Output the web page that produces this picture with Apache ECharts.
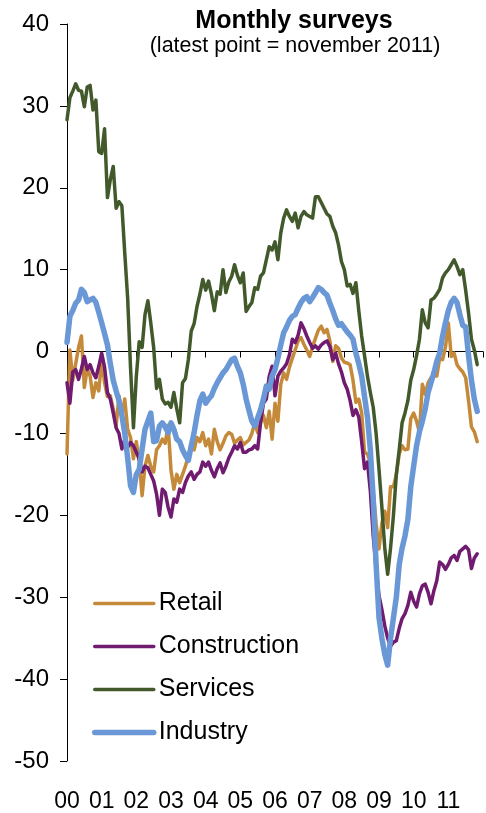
<!DOCTYPE html>
<html>
<head>
<meta charset="utf-8">
<script src="https://cdn.jsdelivr.net/npm/echarts@6/dist/echarts.min.js"></script>
<style>
  html, body { margin: 0; padding: 0; background: #fff; }
  #main { width: 486px; height: 813px; }
</style>
</head>
<body>
<div id="main"></div>
<script>
// monthly, jan 2000 .. nov 2011
const yearLabels = ["00", "01", "02", "03", "04", "05", "06", "07", "08", "09", "10", "11"];

const retail = [
  -12.5, 0.2, -3.5, -1.5, 0.5, 1.9, -4.4, -2.1, -3, -5.6, -3.8, -4.8,
  -1, -3.8, -5.5, -5.4, -7, -9.1, -5.4, -7.8, -5.8, -9.5, -10.5, -13.1,
  -11, -13.5, -17.6, -14, -12.7, -14, -14.7, -12, -11.5, -10.7, -11.2, -9,
  -14.5, -16.8, -15, -16, -15, -14, -12.7, -11.5, -12, -10.5, -11, -9.9,
  -11.5, -10.7, -12.5, -9.5, -11, -12, -11.2, -10.3, -9.9, -10.1, -11.2, -10.8,
  -10.5, -11.4, -11.1, -10.8, -10, -8.7, -9.9, -8.7, -7.8, -9.3, -7.3, -10.7,
  -6.3, -8.5, -4, -2.6, -3.4, -1.9, -0.8, 0.2, 1.3, 1.7, 0.9, 0.2,
  -0.6, 0.6, 1.6, 2.6, 3.1, 2.3, 2.7, 1.3, -1.2, 0.7, 0.4, -0.8,
  -1.3, -1.4, -1.6, -3.5, -6.2, -5.8, -7.5, -12.3, -12.5, -13.6, -17, -21,
  -24.1, -21, -19.5, -21.5, -16.5, -16.5, -15, -12.5, -11.5, -12, -11.9, -8.2,
  -7.5, -8.5, -9.9, -4, -5.2, -3.8, -3.2, -3, -3, -0.8, -1, 0.5,
  3.5, -0.6, -0.2, -1.6, -2.1, -2.5, -3.2, -6, -9.2, -9.8, -11
];

const construction = [
  -3.8, -6.3, -2.5, -2.2, -3.4, -2.1, -0.6, -2.2, -1.6, -2.6, -3.2, -1.8,
  -0.2, -1.9, -5, -5.8, -7.5, -9.3, -10, -11.9, -10.7, -11.7, -11.1, -11.5,
  -12.3, -13.1, -14.7, -14, -14.2, -15, -15.8, -17.4, -20, -16.8, -17.2, -19,
  -20.2, -18, -18.4, -16.8, -17.2, -16, -15.2, -14.7, -15.6, -15, -14.7, -13.5,
  -14, -13.5, -14.5, -15.3, -14.3, -13.6, -14.8, -14, -13, -12.3, -11.5, -11.9,
  -11.1, -12.3, -12.3, -12, -11.9, -11.5, -11.9, -8.7, -6.3, -5.8, -3, -1.8,
  -5.4, -3, -2.4, -2, -1.5, -0.4, 1.5, 1.1, 2, 3.5, 2.8, 1.9,
  1.1, 0.4, 0.7, 0.3, 0.8, 1.1, 1.3, 0.6, -1, -0.2, -1.5, -2.5,
  -3.8, -4.6, -6, -7.8, -7.1, -8, -11, -14.3, -13.5, -17, -22.5, -26.5,
  -29.8, -31.5, -33.5, -35, -36, -35.5, -35.3, -33.8, -32.6, -32, -31, -29.4,
  -30.5, -31.2, -29.6, -28.6, -28.4, -29.4, -30.8, -29.2, -28, -25.7, -26, -26.6,
  -26, -25.2, -24.9, -25.5, -24.4, -24.1, -23.8, -24.2, -26.5, -25.2, -24.7
];

const services = [
  28.3, 31, 31.8, 32.7, 31.9, 31.8, 29.9, 32.3, 32.5, 29.5, 30.7, 24.4,
  24.2, 27.2, 18.8, 21, 22.6, 17.5, 18.3, 17.8, 12, 6.5, -2, -9.3,
  -3, 1.2, 0.5, 4.5, 6.2, 3.5, 0.5, -4.5, -3.4, -5.8, -6.4, -6.2,
  -6.8, -5, -7, -8.7, -3.8, -3.3, -1, 2.5, 3.4, 5.5, 7, 8.8,
  7.5, 8.6, 7, 5, 7.3, 7, 10, 7.2, 8.5, 9.2, 10.6, 9.3,
  8.4, 9.6, 4.9, 5.5, 6, 7.8, 7.6, 9.2, 9.6, 11.2, 12.8, 12.4,
  13.4, 11.2, 14.5, 16.3, 17.3, 16.5, 15.9, 16.9, 15.1, 16.5, 17.1, 16.7,
  16.5, 16.3, 18.9, 18.9, 18.2, 17.5, 16.8, 16.5, 15.3, 14.5, 13, 11,
  10, 8, 8.2, 7.1, 8.4, 5, 1.9, -0.5, -3, -5, -6.8, -10,
  -14.4, -19, -24, -27.2, -24, -20, -15, -12, -8.7, -7.5, -6, -3.5,
  -2.2, -0.5, 1.5, 5.1, 3.5, 2.9, 6.3, 6.5, 7, 7.6, 9, 9.6,
  10, 10.6, 11.2, 10.4, 9.4, 10, 7.5, 4.7, 1.5, 0.2, -1.6
];

const industry = [
  1.1, 4.3, 5, 5.9, 6.3, 7.6, 7.2, 6.1, 6.3, 6.5, 6, 4.8,
  3.5, 2.2, 0.8, -1.5, -3.5, -4.8, -6, -7.8, -10, -13, -16.4, -17.2,
  -15, -14.4, -11.9, -9.5, -8.5, -7.5, -11, -10.9, -9.1, -8.7, -9.2, -9.9,
  -8.7, -9.5, -10.7, -11, -12, -12.7, -13.3, -11.5, -9.9, -7.8, -6, -5.2,
  -6.3, -5.8, -5.4, -4.5, -3.8, -3.2, -2.6, -2.2, -1.6, -1, -0.8, -1.8,
  -2.6, -4, -5.8, -7.2, -8.5, -9.1, -8.1, -7.1, -5.8, -4.2, -4.6, -3,
  -2.2, -0.8, 0.8, 2.3, 3, 3.8, 4.3, 4.5, 5.3, 6, 6.5, 6.7,
  6.1, 6.6, 7.2, 7.8, 7.6, 7.2, 6.9, 5.9, 5, 4, 3.2, 3.4,
  2.9, 2.4, 2, 1.5, -0.2, -1.5, -3, -5.5, -8, -12, -18, -26,
  -32.5, -35, -37, -38.3, -35, -32.5, -30, -26, -24, -22.5, -20.5, -16.5,
  -14, -11.5, -9.8, -8.5, -7, -5, -3.8, -2.6, -1.2, -0.2, 1.9, 3.5,
  5, 6, 6.5, 6, 4.5, 3.2, 3, -0.5, -3.5, -5.8, -7.3
];

const FONT = '"Liberation Sans", Arial, sans-serif';

let chart = echarts.init(document.getElementById("main"), null, { renderer: "canvas" });

function line(name, data, color, width) {
  return {
    name: name,
    type: "line",
    symbol: "none",
    data: data.map((v, i) => [i, v]),
    lineStyle: { color: color, width: width, join: "round", cap: "round" },
    itemStyle: { color: color },
    animation: false,
  };
}

let option = {
  animation: false,
  graphic: [
    {
      type: "text",
      x: 294,
      y: 21,
      style: { text: "Monthly surveys", fill: "#000", font: "bold 25px " + FONT, align: "center", verticalAlign: "middle" },
    },
    {
      type: "text",
      x: 295,
      y: 46,
      style: { text: "(latest point = november 2011)", fill: "#000", font: "21.5px " + FONT, align: "center", verticalAlign: "middle" },
    },
  ],
  legend: {
    orient: "vertical",
    left: 92,
    top: 591,
    padding: 0,
    itemWidth: 59,
    itemHeight: 14,
    itemGap: 18,
    textStyle: { fontSize: 25, fontFamily: FONT, color: "#000" },
    itemStyle: { color: "transparent", borderWidth: 0, opacity: 0 },
    lineStyle: { width: "inherit" },
    data: ["Retail", "Construction", "Services", "Industry"],
  },
  grid: { left: 67, top: 24, width: 420, height: 739 },
  xAxis: [
    {
      type: "value",
      min: 0,
      max: 144,
      interval: 12,
      position: "bottom",
      axisLine: { onZero: true, lineStyle: { color: "#000", width: 1 } },
      axisTick: { show: true, length: 6, lineStyle: { color: "#000" } },
      axisLabel: { show: false },
      splitLine: { show: false },
    },
    {
      type: "value",
      min: 0,
      max: 144,
      interval: 12,
      position: "bottom",
      axisLine: { show: false, onZero: false },
      axisTick: { show: false },
      axisLabel: {
        show: true,
        margin: 29,
        fontSize: 23,
        fontFamily: FONT,
        color: "#000",
        formatter: (v) => yearLabels[v / 12] || "",
      },
      splitLine: { show: false },
    },
  ],
  yAxis: {
    type: "value",
    min: -50,
    max: 40,
    interval: 10,
    axisLine: { show: true, onZero: false, lineStyle: { color: "#000", width: 1 } },
    axisTick: { show: true, length: 7, lineStyle: { color: "#000" } },
    axisLabel: { fontSize: 24, fontFamily: FONT, color: "#000", margin: 18 },
    splitLine: { show: false },
  },
  series: [
    line("Retail", retail, "#c48a3a", 3.5),
    line("Construction", construction, "#701a70", 3.5),
    line("Services", services, "#425a2b", 3.5),
    line("Industry", industry, "#6a98d6", 5.5),
  ],
};

chart.setOption(option);
</script>
</body>
</html>
